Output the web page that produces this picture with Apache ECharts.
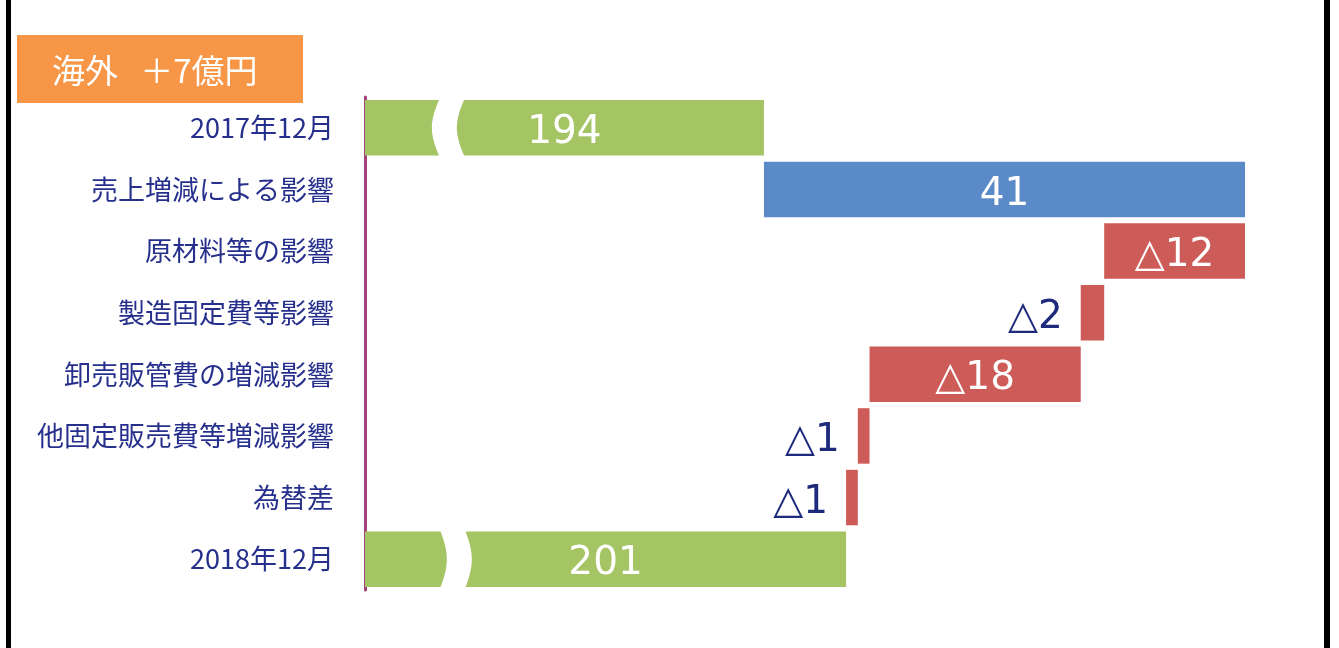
<!DOCTYPE html>
<html>
<head>
<meta charset="utf-8">
<script src="https://cdn.jsdelivr.net/npm/echarts@6/dist/echarts.min.js"></script>
<style>
  html, body { margin: 0; padding: 0; background: #fff; }
  #chart { width: 1339px; height: 648px; }
</style>
</head>
<body>
<div id="chart"></div>
<script>
// 海外 営業利益の増減要因 (億円)
var categories = ['2017年12月', '売上増減による影響', '原材料等の影響', '製造固定費等影響',
  '卸売販管費の増減影響', '他固定販売費等増減影響', '為替差', '2018年12月']
var values = [194, 41, -12, -2, -18, -1, -1, 201]
var valueLabels = ['194', '41', '△12', '△2', '△18', '△1', '△1', '201']
var isTotal = [true, false, false, false, false, false, false, true]
// 省略線（軸の途中を切っている）
var breaks = [[167.4, 0], [167.4, 7]]

var GREEN = '#A5C463'
var BLUE = '#5B8AC8'
var RED = '#CD5B58'
var NAVY = '#1E2A7C'

// 滝グラフ用の透明な土台と見える部分
var helper = []
var shown = []
var running = 0
for (var i = 0; i < values.length; i++) {
  var v = values[i]
  var item = { value: Math.abs(v) }
  if (isTotal[i]) {
    helper.push(0)
    running = v
    item.itemStyle = { color: GREEN }
  } else {
    var next = running + v
    helper.push(Math.min(running, next))
    running = next
    item.itemStyle = { color: v > 0 ? BLUE : RED }
  }
  if (Math.abs(v) <= 2) {
    item.label = { position: 'left', distance: 18, color: NAVY }
  }
  shown.push(item)
}

var chart = echarts.init(document.getElementById('chart'))
var option = {
  animation: false,
  textStyle: { fontFamily: '"Noto Sans CJK JP", "DejaVu Sans", sans-serif' },
  grid: {
    left: 365, right: 94, top: 97, bottom: 58,
    containLabel: false, outerBoundsMode: 'none'
  },
  xAxis: {
    type: 'value', min: 160, max: 235, show: false,
    splitLine: { show: false }
  },
  yAxis: {
    type: 'category', inverse: true, data: categories,
    axisLine: { lineStyle: { color: '#A0437F', width: 3 } },
    axisTick: { show: false },
    axisLabel: { color: '#26308C', fontSize: 27, margin: 31, padding: [5, 0, 0, 0] }
  },
  graphic: [
    { type: 'rect', left: 6, top: 0, shape: { width: 5, height: 648 }, style: { fill: '#000' } },
    { type: 'rect', left: 1324, top: 0, shape: { width: 6, height: 648 }, style: { fill: '#000' } },
    {
      type: 'group', left: 17, top: 35,
      children: [
        { type: 'rect', shape: { width: 286, height: 68 }, style: { fill: '#F79646' } },
        {
          type: 'text', x: 35, y: 35,
          style: {
            text: '海外   ＋7億円', fill: '#fff', fontSize: 33,
            fontFamily: '"Noto Sans CJK JP", sans-serif', verticalAlign: 'middle'
          }
        }
      ]
    }
  ],
  series: [
    {
      name: 'base', type: 'bar', stack: 'w', silent: true, clip: true,
      barWidth: '90%',
      itemStyle: { color: 'transparent' },
      data: helper
    },
    {
      name: '増減', type: 'bar', stack: 'w', clip: true,
      barWidth: '90%',
      label: {
        show: true, position: 'inside', color: '#fff', fontSize: 39,
        offset: [0, 5],
        fontFamily: '"DejaVu Sans", sans-serif',
        formatter: function (p) { return valueLabels[p.dataIndex] }
      },
      data: shown
    },
    {
      name: 'break', type: 'custom', silent: true, z: 10,
      renderItem: function (params, api) {
        var c = api.coord([api.value(0), api.value(1)])
        var h = api.size([0, 1])[1] * 0.9 + 4
        var top = c[1] - h / 2
        var bend = params.dataIndex === 0 ? -8 : 7
        var pts = []
        var n = 14
        for (var k = 0; k <= n; k++) {
          var t = k / n
          pts.push([c[0] - 12 + bend * Math.sin(Math.PI * t), top + h * t])
        }
        for (var k2 = n; k2 >= 0; k2--) {
          var t2 = k2 / n
          pts.push([c[0] + 13 + bend * Math.sin(Math.PI * t2), top + h * t2])
        }
        return { type: 'polygon', shape: { points: pts }, style: { fill: '#fff' } }
      },
      data: breaks
    }
  ]
}
chart.setOption(option)
</script>
</body>
</html>
